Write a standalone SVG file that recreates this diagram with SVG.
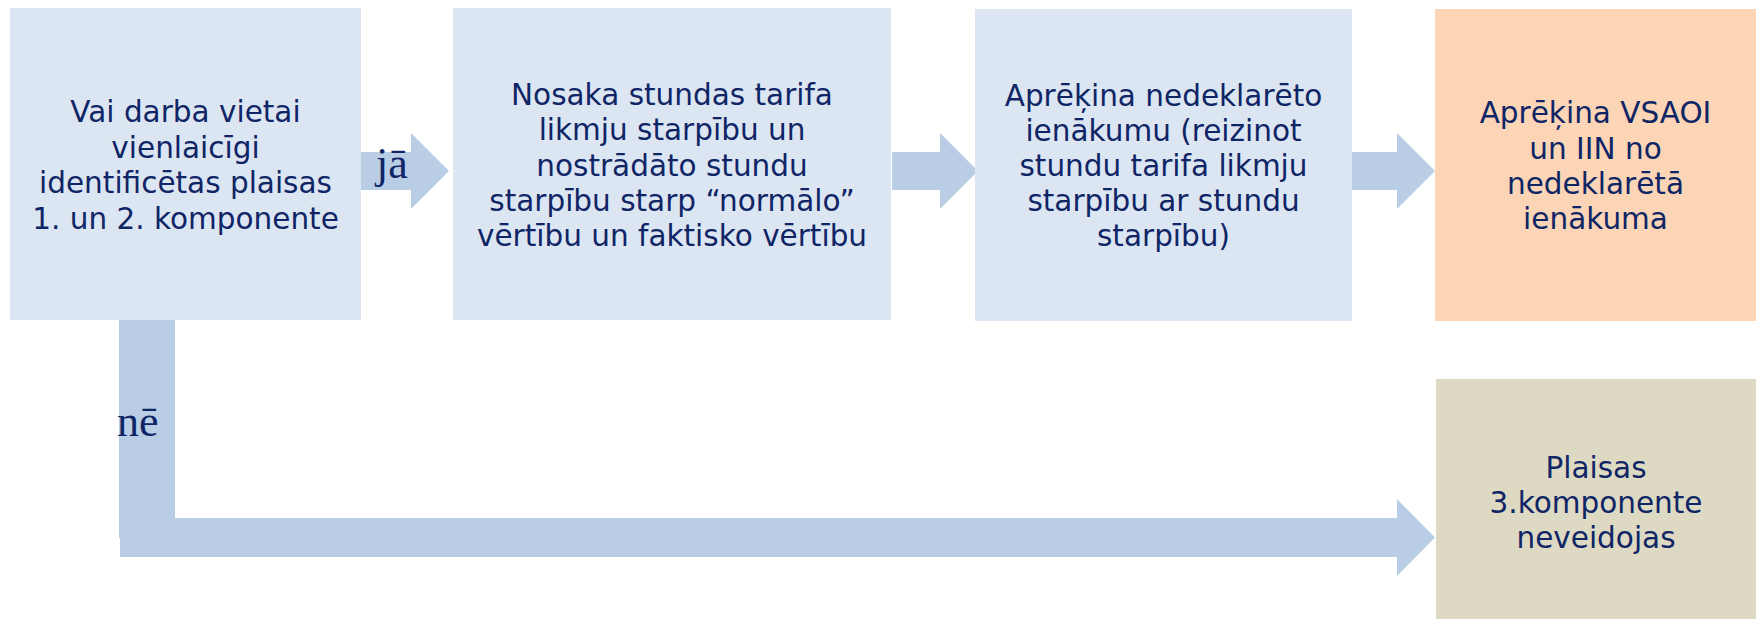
<svg xmlns="http://www.w3.org/2000/svg" width="1759" height="619" viewBox="0 0 1759 619">
<style>
.box{fill:#DCE6F2}
.peach{fill:#FBD5B5}
.khaki{fill:#DDD9C3}
.arrow{fill:#B9CDE5}
.t{font-family:"DejaVu Sans","Liberation Sans",sans-serif;font-size:29.5px;fill:#0F2566;text-anchor:middle}
.lbl{font-family:"Liberation Serif","Times New Roman",serif;font-size:44px;fill:#0F2566}
</style>
<rect width="1759" height="619" fill="#FFFFFF"/>
<g id="connectors">
  <polygon class="arrow" points="361,152 411,152 411,133 449,171 411,209 411,190 361,190"/>
  <polygon class="arrow" points="892,152 940,152 940,133 978,171 940,209 940,190 892,190"/>
  <polygon class="arrow" points="1349,152 1397,152 1397,133 1435,171 1397,209 1397,190 1349,190"/>
  <path class="arrow" d="M119,320 H175 V518 H1397 V499 L1435,537.5 L1397,576 V557 H120 V538 H119 Z"/>
  <text class="lbl" x="376" y="178">jā</text>
  <text class="lbl" x="117" y="436">nē</text>
</g>
<g id="node1">
  <rect class="box" x="10" y="8" width="351" height="312"/>
  <text class="t" x="185.5" y="122">Vai darba vietai</text>
  <text class="t" x="185.5" y="157.5">vienlaicīgi</text>
  <text class="t" x="185.5" y="193">identificētas plaisas</text>
  <text class="t" x="185.5" y="228.5">1. un 2. komponente</text>
</g>
<g id="node2">
  <rect class="box" x="453" y="8" width="438" height="312"/>
  <text class="t" x="672" y="105">Nosaka stundas tarifa</text>
  <text class="t" x="672" y="140">likmju starpību un</text>
  <text class="t" x="672" y="175.5">nostrādāto stundu</text>
  <text class="t" x="672" y="211">starpību starp “normālo”</text>
  <text class="t" x="672" y="246">vērtību un faktisko vērtību</text>
</g>
<g id="node3">
  <rect class="box" x="975" y="9" width="377" height="312"/>
  <text class="t" x="1163.5" y="106">Aprēķina nedeklarēto</text>
  <text class="t" x="1163.5" y="141">ienākumu (reizinot</text>
  <text class="t" x="1163.5" y="176">stundu tarifa likmju</text>
  <text class="t" x="1163.5" y="211">starpību ar stundu</text>
  <text class="t" x="1163.5" y="246">starpību)</text>
</g>
<g id="node4">
  <rect class="peach" x="1435" y="9" width="321" height="312"/>
  <text class="t" x="1595.5" y="123">Aprēķina VSAOI</text>
  <text class="t" x="1595.5" y="158.5">un IIN no</text>
  <text class="t" x="1595.5" y="194">nedeklarētā</text>
  <text class="t" x="1595.5" y="229">ienākuma</text>
</g>
<g id="node5">
  <rect class="khaki" x="1436" y="379" width="320" height="240"/>
  <text class="t" x="1596" y="478">Plaisas</text>
  <text class="t" x="1596" y="513">3.komponente</text>
  <text class="t" x="1596" y="548">neveidojas</text>
</g>
</svg>
